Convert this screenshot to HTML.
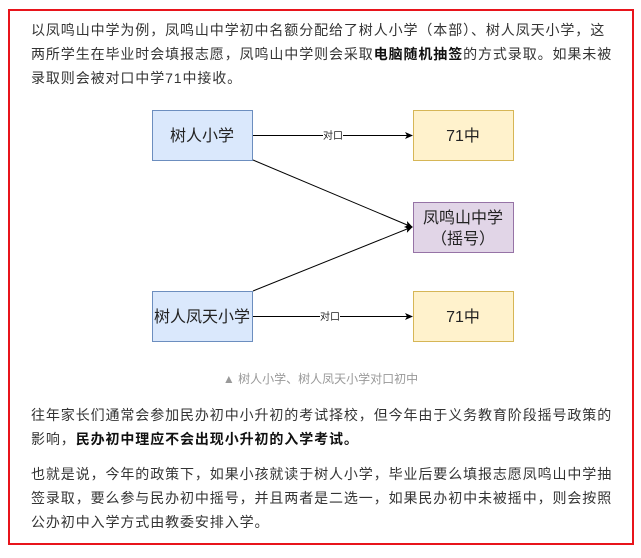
<!DOCTYPE html>
<html><head><meta charset="utf-8"><style>
body{margin:0;width:641px;height:558px;background:#fff;position:relative;overflow:hidden;font-family:"Liberation Sans","Noto Sans CJK SC",sans-serif;}
.frame{position:absolute;left:8px;top:9px;width:622px;height:532px;border:2px solid #e8141b;}
p{position:absolute;left:31px;width:600px;margin:0;font-size:14px;line-height:24px;color:#333;letter-spacing:0.9px;white-space:nowrap;}
b{color:#111;}
.cap{position:absolute;left:0;width:641px;top:370px;text-align:center;font-size:12px;color:#999;}
</style></head><body>
<div class="frame"></div>
<p style="top:18px">以凤鸣山中学为例，凤鸣山中学初中名额分配给了树人小学（本部）、树人凤天小学，这<br>两所学生在毕业时会填报志愿，凤鸣山中学则会采取<b>电脑随机抽签</b>的方式录取。如果未被<br>录取则会被对口中学71中接收。</p>
<svg style="position:absolute;left:0;top:0" width="641" height="558">
<defs><marker id="a" markerWidth="8" markerHeight="8" refX="7" refY="4" orient="auto" markerUnits="userSpaceOnUse"><path d="M0,0.5 L8,4 L0,7.5 L2,4 Z" fill="#000"/></marker></defs>
<g font-family="Liberation Sans,Noto Sans CJK SC,sans-serif" text-anchor="middle">
<rect x="152.5" y="110.5" width="100" height="50" fill="#dae8fc" stroke="#6c8ebf"/>
<text x="202" y="141" font-size="16" fill="#222">树人小学</text>
<rect x="413.5" y="110.5" width="100" height="50" fill="#fff2cc" stroke="#d6b656"/>
<text x="463" y="141" font-size="16" fill="#222">71中</text>
<rect x="413.5" y="202.5" width="100" height="50" fill="#e1d5e7" stroke="#9673a6"/>
<text x="463" y="223" font-size="16" fill="#222">凤鸣山中学</text>
<text x="463" y="244" font-size="16" fill="#222">（摇号）</text>
<rect x="152.5" y="291.5" width="100" height="50" fill="#dae8fc" stroke="#6c8ebf"/>
<text x="202" y="322" font-size="16" fill="#222">树人凤天小学</text>
<rect x="413.5" y="291.5" width="100" height="50" fill="#fff2cc" stroke="#d6b656"/>
<text x="463" y="322" font-size="16" fill="#222">71中</text>
<line x1="253" y1="135.5" x2="412" y2="135.5" stroke="#000" marker-end="url(#a)"/>
<line x1="253" y1="316.5" x2="412" y2="316.5" stroke="#000" marker-end="url(#a)"/>
<line x1="253" y1="160" x2="412" y2="227" stroke="#000" marker-end="url(#a)"/>
<line x1="253" y1="291" x2="412" y2="227" stroke="#000" marker-end="url(#a)"/>
<rect x="323" y="129" width="20" height="12" fill="#fff"/>
<text x="333" y="139" font-size="10" fill="#222">对口</text>
<rect x="320" y="310" width="20" height="12" fill="#fff"/>
<text x="330" y="320" font-size="10" fill="#222">对口</text>
</g></svg>
<div class="cap">▲ 树人小学、树人凤天小学对口初中</div>
<p style="top:403px">往年家长们通常会参加民办初中小升初的考试择校，但今年由于义务教育阶段摇号政策的<br>影响，<b>民办初中理应不会出现小升初的入学考试。</b></p>
<p style="top:462px">也就是说，今年的政策下，如果小孩就读于树人小学，毕业后要么填报志愿凤鸣山中学抽<br>签录取，要么参与民办初中摇号，并且两者是二选一，如果民办初中未被摇中，则会按照<br>公办初中入学方式由教委安排入学。</p>
</body></html>
